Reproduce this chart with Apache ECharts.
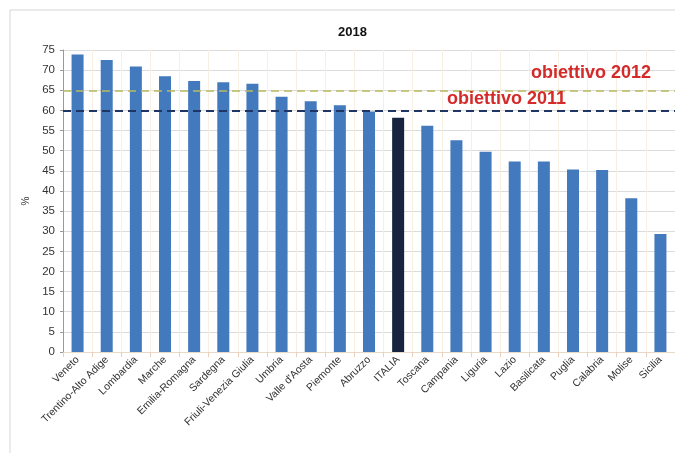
<!DOCTYPE html>
<html>
<head>
  <meta charset="utf-8" />
  <title>2018</title>
  <style>
    html, body { margin: 0; padding: 0; background: #fff; }
    #chart { width: 675px; height: 453px; }
  </style>
</head>
<body>
  <div id="chart"></div>
  <script src="https://cdn.jsdelivr.net/npm/echarts@6/dist/echarts.min.js"></script>
  <script>
    var regions = ['Veneto', 'Trentino-Alto Adige', 'Lombardia', 'Marche', 'Emilia-Romagna', 'Sardegna',
      'Friuli-Venezia Giulia', 'Umbria', "Valle d'Aosta", 'Piemonte', 'Abruzzo', 'ITALIA', 'Toscana',
      'Campania', 'Liguria', 'Lazio', 'Basilicata', 'Puglia', 'Calabria', 'Molise', 'Sicilia'];
    var values = [73.9, 72.5, 70.9, 68.5, 67.3, 67.0, 66.6, 63.4, 62.3, 61.3, 59.7, 58.2, 56.2,
      52.6, 49.7, 47.3, 47.3, 45.3, 45.2, 38.2, 29.3];
    var targets = [
      { name: 'obiettivo 2011', value: 60 },
      { name: 'obiettivo 2012', value: 65 }
    ];

    var barColor = '#4379bd';
    var italyColor = '#16243f';

    var chart = echarts.init(document.getElementById('chart'));

    var barData = values.map(function (v, i) {
      return {
        value: v,
        itemStyle: { color: regions[i] === 'ITALIA' ? italyColor : barColor }
      };
    });

    var option = {
      animation: false,
      textStyle: { fontFamily: 'Liberation Sans, Arial, sans-serif' },
      title: {
        text: '2018',
        left: 333,
        top: 21,
        textStyle: { fontSize: 13, fontWeight: 'bold', color: '#111' }
      },
      graphic: [{
        type: 'rect',
        shape: { x: 10, y: 10, width: 700, height: 460 },
        style: { fill: null, stroke: '#d6d6d6', lineWidth: 1 },
        silent: true
      }],
      grid: { left: 63, top: 50, width: 622, height: 302 },
      xAxis: {
        type: 'category',
        data: regions,
        axisLine: { lineStyle: { color: '#e8d9c8' } },
        axisTick: { show: true, lineStyle: { color: '#e8d0b8' } },
        splitLine: { show: true, lineStyle: { color: '#f7efe2' } },
        axisLabel: {
          rotate: 45,
          interval: 0,
          fontSize: 10.5,
          color: '#333',
          margin: 6
        }
      },
      yAxis: {
        type: 'value',
        min: 0,
        max: 75,
        interval: 5,
        name: '%',
        nameLocation: 'middle',
        nameRotate: 90,
        nameGap: 31,
        nameTextStyle: { fontSize: 10, color: '#333' },
        axisLine: { show: true, lineStyle: { color: '#9a9a9a' } },
        axisTick: { show: true, length: 3, lineStyle: { color: '#9a9a9a' } },
        axisLabel: { fontSize: 11.5, color: '#333', margin: 8 },
        splitLine: { lineStyle: { color: '#dcdcdc' } }
      },
      series: [{
        type: 'bar',
        data: barData,
        barWidth: 12,
        markLine: {
          symbol: 'none',
          silent: true,
          data: [
            {
              yAxis: targets[0].value,
              name: targets[0].name,
              lineStyle: { color: '#1f3566', type: [8, 5], width: 2 },
              label: { distance: [109, 2] }
            },
            {
              yAxis: targets[1].value,
              name: targets[1].name,
              lineStyle: { color: '#b9b960', type: [8, 5], width: 1.5 },
              label: { distance: [24, 8] }
            }
          ],
          label: {
            show: true,
            position: 'insideEndTop',
            formatter: '{b}',
            color: '#d42a2a',
            fontSize: 18,
            fontWeight: 'bold'
          }
        }
      }]
    };

    chart.setOption(option);
  </script>
</body>
</html>
